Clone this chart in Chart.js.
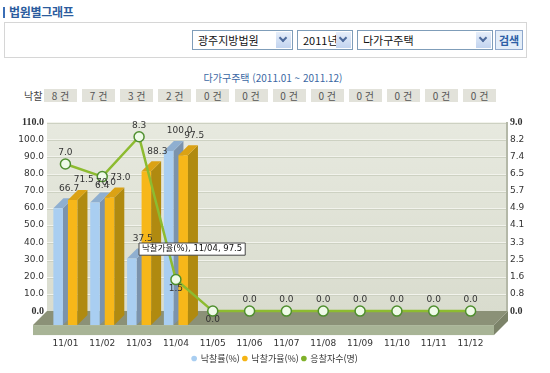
<!DOCTYPE html>
<html lang="ko">
<head>
<meta charset="utf-8">
<script src="https://cdn.jsdelivr.net/npm/chart.js@4.4.1/dist/chart.umd.min.js"></script>
<style>
  body { margin:0; width:550px; height:373px; background:#fff; position:relative; overflow:hidden;
         font-family:'DejaVu Sans','Noto Sans CJK KR',sans-serif; }
  .abs { position:absolute; }
  #hdrBar { left:3px; top:7px; width:2px; height:11px; background:#3a6db5; }
  #hdr { left:9px; top:3px; font:bold 12px 'Noto Sans CJK KR'; color:#2c5c9e; letter-spacing:-0.3px; }
  #searchBox { left:4px; top:22px; width:523px; height:36px; border:1px solid #d6d6d6; box-sizing:border-box; }
  .sel { top:30px; height:20px; border:1px solid #7f9db9; background:#fff; box-sizing:border-box;
         font:11px 'Noto Sans CJK KR'; color:#111; line-height:18px; padding-left:5px; }
  .arr { position:absolute; right:1px; top:1px; width:15px; height:16px;
         background:linear-gradient(#e6eefa,#c2d4ef); }
  .arr::after { content:''; position:absolute; left:4px; top:3px; width:4px; height:4px;
         border-right:2px solid #4d6a9c; border-bottom:2px solid #4d6a9c; transform:rotate(45deg); }
  #btn { left:495px; top:30px; width:28px; height:20px; border:1px solid #8fa8cc; background:#e4eef9;
         box-sizing:border-box; font:bold 11px 'Noto Sans CJK KR'; color:#2d5fa6; text-align:center; line-height:18px; }
  #title { left:0; top:70px; width:546px; text-align:center; font:10px 'Noto Sans CJK KR'; color:#3b67a3; }
  #winLabel { left:24px; top:88px; font:10px 'Noto Sans CJK KR'; color:#444; }
  .cnt { position:absolute; top:89px; width:33px; height:13px; background:#e2e2da; text-align:center;
         font:10px 'Noto Sans CJK KR'; color:#555; line-height:13px; }
  #chartWrap { left:0; top:95px; width:550px; height:278px; }
</style>
</head>
<body>
<div id="hdrBar" class="abs"></div>
<div id="hdr" class="abs">법원별그래프</div>
<div id="searchBox" class="abs"></div>
<div class="abs sel" style="left:192px;width:101px">광주지방법원<div class="arr"></div></div>
<div class="abs sel" style="left:297px;width:56px">2011년<div class="arr"></div></div>
<div class="abs sel" style="left:357px;width:136px">다가구주택<div class="arr"></div></div>
<div id="btn" class="abs">검색</div>
<div id="title" class="abs">다가구주택 (2011.01 ~ 2011.12)</div>
<div id="winLabel" class="abs">낙찰</div>
<div id="winRow"></div>
<div id="chartWrap" class="abs"><canvas id="courtChart" width="550" height="278"></canvas></div>

<script>
const months = ['11/01', '11/02', '11/03', '11/04', '11/05', '11/06', '11/07', '11/08', '11/09', '11/10', '11/11', '11/12'];
const bidRate = [66.7, 70.0, 37.5, 100.0, 0, 0, 0, 0, 0, 0, 0, 0];      // 낙찰률(%)
const priceRate = [71.5, 73.0, 88.3, 97.5, 0, 0, 0, 0, 0, 0, 0, 0];     // 낙찰가율(%)
const bidders = [7.0, 6.4, 8.3, 1.5, 0, 0, 0, 0, 0, 0, 0, 0];           // 응찰자수(명)
const winCounts = [8, 7, 3, 2, 0, 0, 0, 0, 0, 0, 0, 0];                 // 낙찰 건수
const leftTicks = [0, 10, 20, 30, 40, 50, 60, 70, 80, 90, 100, 110];
const rightTickLabels = ['0.0', '0.8', '1.6', '2.5', '3.3', '4.1', '4.9', '5.7', '6.5', '7.4', '8.2', '9.0'];
const seriesNames = ['낙찰률(%)', '낙찰가율(%)', '응찰자수(명)'];

// 낙찰 건수 줄
const row = document.getElementById('winRow');
winCounts.forEach((n, i) => {
    const d = document.createElement('div');
    d.className = 'cnt';
    d.style.left = (44 + i * 38.1) + 'px';
    d.textContent = n + ' 건';
    row.appendChild(d);
});

const BLUE = { front: '#a9cef1', side: '#7b93ad', top: '#8fafd0' };
const ORANGE = { front: '#f7b719', side: '#b08a10', top: '#dba214' };
const faces = [BLUE, ORANGE];
const legendColors = ['#a9cef1', '#f5b414', '#7fb12a'];
const DX = 10, DY = 10;        // 막대 깊이
const FLOOR = 14;              // 바닥 깊이
const Y_MIN = -8.1;
const R_MIN = 9 * Y_MIN / 110;

const NORMAL = { family: 'DejaVu Sans', size: 9 };
const BOLD = { family: 'Liberation Serif', size: 10, weight: 'bold' };

function drawFaces(chart, di) {
    const ctx = chart.ctx;
    const face = faces[di];
    const ds = chart.data.datasets[di];
    ctx.save();
    chart.getDatasetMeta(di).data.forEach((el, j) => {
        if (!(ds.data[j] > 0)) return;
        const { x, y, width, base } = el.getProps(['x', 'y', 'width', 'base'], true);
        const l = x - width / 2, r = x + width / 2;
        ctx.fillStyle = face.side;
        ctx.beginPath();
        ctx.moveTo(r, y); ctx.lineTo(r + DX, y - DY); ctx.lineTo(r + DX, base - DY); ctx.lineTo(r, base);
        ctx.closePath(); ctx.fill();
        ctx.fillStyle = face.top;
        ctx.beginPath();
        ctx.moveTo(l, y); ctx.lineTo(l + DX, y - DY); ctx.lineTo(r + DX, y - DY); ctx.lineTo(r, y);
        ctx.closePath(); ctx.fill();
    });
    ctx.restore();
}

// 벽, 격자, 바닥, 입체 막대, 값 표시
const scenePlugin = {
    id: 'scene',
    beforeDatasetsDraw(chart) {
        const ctx = chart.ctx;
        const y = chart.scales.y;
        const area = chart.chartArea;
        const top = y.getPixelForValue(leftTicks[leftTicks.length - 1]);
        const zero = y.getPixelForValue(0);
        const left = area.left;
        const right = area.right + 17;
        ctx.save();
        const g = ctx.createLinearGradient(0, top, 0, zero);
        g.addColorStop(0, '#e7e9df');
        g.addColorStop(1, '#d9dcce');
        ctx.fillStyle = g;
        ctx.fillRect(left, top, right - left, zero - top);
        leftTicks.forEach(v => {
            if (v === 0) return;
            const py = Math.round(y.getPixelForValue(v));
            ctx.fillStyle = '#f2f3ec';
            ctx.fillRect(left, py, right - left, 1);
            ctx.fillStyle = '#cdd1c2';
            ctx.fillRect(left, py + 1, right - left, 1);
        });
        ctx.fillStyle = '#b4b8a8';
        ctx.fillRect(right, top, 2, zero - top);
        ctx.fillStyle = '#8b9177';
        ctx.beginPath();
        ctx.moveTo(left, zero);
        ctx.lineTo(right + 2, zero);
        ctx.lineTo(right + 2 - FLOOR, zero + FLOOR);
        ctx.lineTo(left - FLOOR, zero + FLOOR);
        ctx.closePath();
        ctx.fill();
        ctx.fillStyle = '#a8b496';
        ctx.fillRect(left - FLOOR, zero + FLOOR, right + 2 - left, 10);
        ctx.fillStyle = '#7c8369';
        ctx.beginPath();
        ctx.moveTo(right + 2 - FLOOR, zero + FLOOR);
        ctx.lineTo(right + 2, zero);
        ctx.lineTo(right + 2, zero + 10);
        ctx.lineTo(right + 2 - FLOOR, zero + FLOOR + 10);
        ctx.closePath();
        ctx.fill();
        ctx.restore();
    },
    // 주황 막대가 그려지기 전에 파란 막대의 옆면/윗면을 깔아 둔다
    beforeDatasetDraw(chart, args) {
        if (args.index === 1) drawFaces(chart, 0);
    },
    afterDatasetDraw(chart, args) {
        if (args.index === 1) drawFaces(chart, 1);
    },
    afterDatasetsDraw(chart) {
        const ctx = chart.ctx;
        ctx.save();
        ctx.font = '9px "DejaVu Sans"';
        ctx.fillStyle = '#333';
        ctx.textAlign = 'center';
        ctx.textBaseline = 'middle';
        [0, 1].forEach(di => {
            const ds = chart.data.datasets[di];
            chart.getDatasetMeta(di).data.forEach((el, j) => {
                const v = ds.data[j];
                if (!(v > 0)) return;
                ctx.fillText(v.toFixed(1), el.x + DX + 1, el.y - DY - 10);
            });
        });
        const line = chart.data.datasets[2];
        chart.getDatasetMeta(2).data.forEach((el, j) => {
            const v = line.data[j];
            const below = j > 0 && line.data[j - 1] > v;
            ctx.fillText(v.toFixed(1), el.x, below ? el.y + 9 : el.y - 11);
        });
        ctx.restore();
    }
};

Chart.Tooltip.positioners.atPoint = function (items, pos) {
    return { x: pos.x, y: pos.y, xAlign: 'left', yAlign: 'top' };
};

const chart = new Chart(document.getElementById('courtChart'), {
    type: 'bar',
    data: {
        labels: months,
        datasets: [
            {
                label: seriesNames[0], data: bidRate, yAxisID: 'yF', order: 2, base: -1.2,
                backgroundColor: c => c.raw > 0 ? BLUE.front : 'rgba(0,0,0,0)',
                borderWidth: 0, categoryPercentage: 0.79, barPercentage: 0.655
            },
            {
                label: seriesNames[1], data: priceRate, yAxisID: 'yF', order: 2, base: -1.2,
                backgroundColor: c => c.raw > 0 ? ORANGE.front : 'rgba(0,0,0,0)',
                borderWidth: 0, categoryPercentage: 0.79, barPercentage: 0.655
            },
            {
                type: 'line', label: seriesNames[2], data: bidders, yAxisID: 'y1', order: 1,
                borderColor: '#8dbb30', borderWidth: 2.5, tension: 0,
                pointRadius: 5, pointBackgroundColor: '#effae8', pointBorderColor: '#4f8f2f', pointBorderWidth: 1.5
            }
        ]
    },
    options: {
        responsive: false,
        animation: false,
        events: [],
        devicePixelRatio: 1,
        layout: { padding: { top: 11, bottom: 0, left: 0, right: 0 } },
        scales: {
            x: {
                offset: true,
                grid: { display: false, drawTicks: false },
                border: { display: false },
                ticks: { padding: 13, color: '#333', font: NORMAL, maxRotation: 0, autoSkip: false },
                afterFit: s => { s.height = 26; }
            },
            y: {
                position: 'left', min: Y_MIN, max: 110,
                grid: { display: false, drawTicks: false },
                border: { display: false },
                afterBuildTicks: s => { s.ticks = leftTicks.map(v => ({ value: v })); },
                ticks: {
                    padding: 3, color: '#333', autoSkip: false,
                    callback: v => v.toFixed(1),
                    font: c => (c.index === 0 || c.index === leftTicks.length - 1) ? BOLD : NORMAL
                },
                afterFit: s => { s.width = 47; }
            },
            y1: {
                position: 'right', min: R_MIN, max: 9,
                grid: { display: false, drawTicks: false },
                border: { display: false },
                afterBuildTicks: s => { s.ticks = rightTickLabels.map((t, i) => ({ value: i * 9 / 11 })); },
                ticks: {
                    padding: 21, color: '#333', autoSkip: false,
                    callback: (v, i) => rightTickLabels[i],
                    font: c => (c.index === 0 || c.index === rightTickLabels.length - 1) ? BOLD : NORMAL
                },
                afterFit: s => { s.width = 61; }
            },
            yF: { display: false, min: -1.2, max: 116.9 }
        },
        plugins: {
            legend: {
                position: 'bottom',
                labels: {
                    usePointStyle: true, pointStyle: 'circle', boxWidth: 4, boxHeight: 4, padding: 3,
                    color: '#333', font: { family: "'Noto Sans CJK KR'", size: 9 },
                    sort: (a, b) => a.datasetIndex - b.datasetIndex,
                    generateLabels: ch => Chart.defaults.plugins.legend.labels.generateLabels(ch).map(l => ({
                        ...l, fillStyle: legendColors[l.datasetIndex], strokeStyle: legendColors[l.datasetIndex],
                        lineWidth: 0, pointStyle: 'circle'
                    }))
                }
            },
            tooltip: {
                position: 'atPoint',
                animation: false,
                xAlign: 'left', yAlign: 'top',
                backgroundColor: '#fff', borderColor: '#444', borderWidth: 1, cornerRadius: 0,
                caretSize: 0, caretPadding: 0, displayColors: false,
                bodyColor: '#111', bodyFont: { family: "'DejaVu Sans', 'Noto Sans CJK KR'", size: 8.5 },
                padding: { top: 1, bottom: 1, left: 3, right: 3 },
                callbacks: {
                    title: () => '',
                    label: c => `${c.dataset.label}, ${c.label}, ${c.raw.toFixed(1)}`
                }
            }
        }
    },
    plugins: [scenePlugin]
});

chart.tooltip.setActiveElements([{ datasetIndex: 1, index: 3 }], { x: 139, y: 148 });
chart.update();
</script>
</body>
</html>
